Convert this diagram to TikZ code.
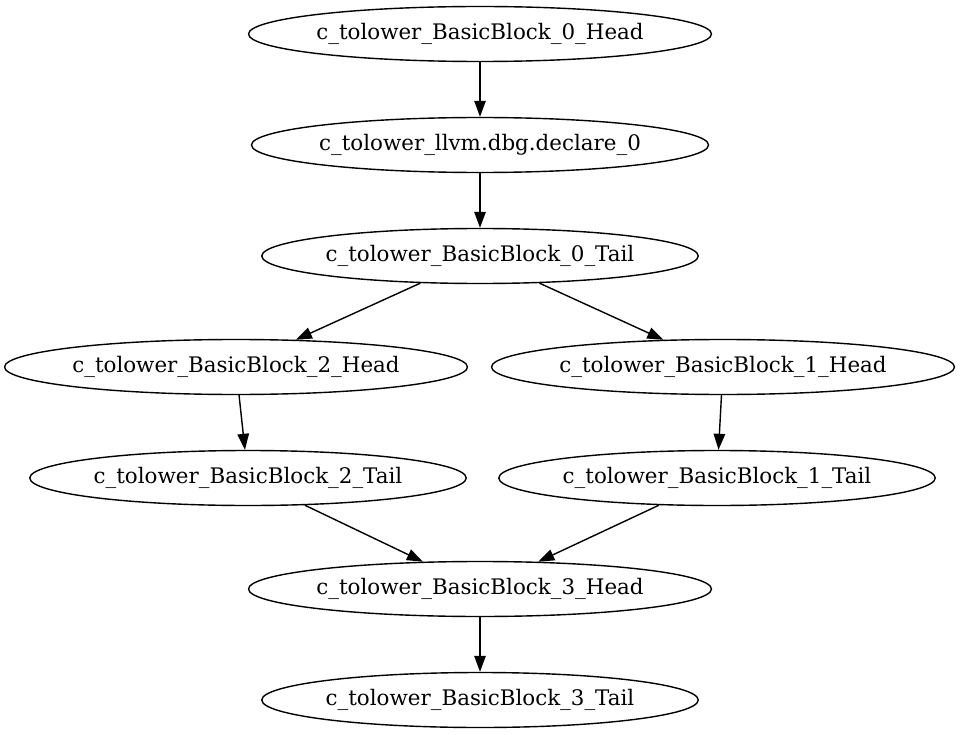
\documentclass[tikz,border=0pt]{standalone}
\usepackage{fontspec}
\setmainfont{DejaVu Serif}
\usetikzlibrary{shapes.geometric,arrows.meta}
\tikzset{
  bb/.style={draw, ellipse, inner sep=0pt, minimum height=55pt, line width=1.4pt,
    font=\fontsize{21.4}{24}\selectfont},
  flow/.style={-{Triangle[length=16pt,width=11.5pt]}, line width=1.4pt}
}
\begin{document}
\begin{tikzpicture}[x=1pt,y=-1pt]
\useasboundingbox (0,0) rectangle (960,735);

\node[bb, minimum width=460pt] (h0) at (480,34) {c\_tolower\_BasicBlock\_0\_Head};
\node[bb, minimum width=457pt] (dbg) at (480,145) {c\_tolower\_llvm.dbg.declare\_0};
\node[bb, minimum width=436pt] (t0) at (480,256) {c\_tolower\_BasicBlock\_0\_Tail};

\node[bb, minimum width=458pt] (h2) at (236,367) {c\_tolower\_BasicBlock\_2\_Head};
\node[bb, minimum width=460pt] (h1) at (723,367) {c\_tolower\_BasicBlock\_1\_Head};

\node[bb, minimum width=436pt] (t2) at (248,478) {c\_tolower\_BasicBlock\_2\_Tail};
\node[bb, minimum width=435pt] (t1) at (717,478) {c\_tolower\_BasicBlock\_1\_Tail};

\node[bb, minimum width=460pt] (h3) at (480,589) {c\_tolower\_BasicBlock\_3\_Head};
\node[bb, minimum width=436pt] (t3) at (480,700) {c\_tolower\_BasicBlock\_3\_Tail};

\draw[flow] (h0) -- (dbg);
\draw[flow] (dbg) -- (t0);
\draw[flow] (t0) -- (h2);
\draw[flow] (t0) -- (h1);
\draw[flow] (h2) -- (t2);
\draw[flow] (h1) -- (t1);
\draw[flow] (t2) -- (h3);
\draw[flow] (t1) -- (h3);
\draw[flow] (h3) -- (t3);
\end{tikzpicture}
\end{document}
